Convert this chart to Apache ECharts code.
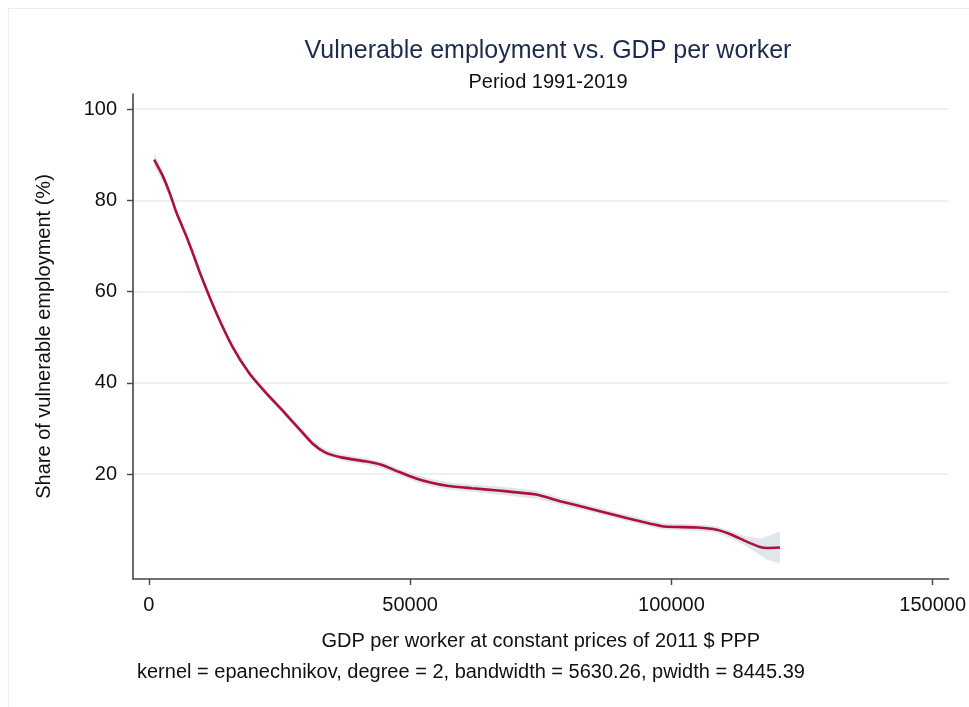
<!DOCTYPE html>
<html>
<head>
<meta charset="utf-8">
<script src="https://cdn.jsdelivr.net/npm/echarts@6/dist/echarts.min.js"></script>
<style>
html,body{margin:0;padding:0;background:#fff;}
#chart{width:969px;height:707px;}
</style>
</head>
<body>
<div id="chart"></div>
<script>
// GDP per worker (x) and fitted share of vulnerable employment (y)
const gdpPerWorker = [1000, 2700, 4000, 5300, 7200, 8400, 10000, 12900, 16000, 19200, 22400, 25600, 28750, 31300, 33800, 37000, 41400, 44600, 47800, 51000, 54100, 57300, 61800, 66800, 69400, 74100, 78900, 85200, 91600, 96000, 98600, 101100, 105000, 108700, 111300, 114400, 117000, 118200, 120800];
const vulnerableShare = [88.9, 85.2, 81.5, 77.2, 72.0, 68.4, 63.4, 55.3, 47.9, 42.1, 37.8, 33.9, 29.9, 26.7, 24.7, 23.6, 22.8, 22.0, 20.5, 19.1, 18.1, 17.4, 16.9, 16.4, 16.1, 15.5, 14.0, 12.2, 10.3, 9.1, 8.5, 8.4, 8.3, 7.8, 6.8, 5.2, 4.0, 3.8, 3.9];
const ciLow = [87.4, 84.2, 80.7, 76.5, 71.4, 67.8, 62.8, 54.7, 47.3, 41.5, 37.2, 33.3, 29.3, 26.0, 24.0, 22.9, 22.1, 21.3, 19.8, 18.3, 17.3, 16.6, 16.1, 15.5, 15.2, 14.6, 13.2, 11.5, 9.6, 8.4, 7.8, 7.7, 7.6, 7.1, 6.0, 4.1, 2.2, 1.3, 0.4];
const ciHigh = [90.4, 86.2, 82.3, 77.9, 72.6, 69.0, 64.0, 55.9, 48.5, 42.7, 38.4, 34.5, 30.5, 27.4, 25.4, 24.3, 23.5, 22.7, 21.2, 19.9, 18.9, 18.2, 17.7, 17.3, 17.0, 16.4, 14.8, 12.9, 11.0, 9.8, 9.2, 9.1, 9.0, 8.5, 7.6, 6.3, 5.8, 6.3, 7.4];
const xTicks = [0, 50000, 100000, 150000];
const yTicks = [20, 40, 60, 80, 100];

const titleText = 'Vulnerable employment vs. GDP per worker';
const subtitleText = 'Period 1991-2019';
const xName = 'GDP per worker at constant prices of 2011 $ PPP';
const yName = 'Share of vulnerable employment (%)';
const noteText = 'kernel = epanechnikov, degree = 2, bandwidth = 5630.26, pwidth = 8445.39';

const FONT = "'Liberation Sans', Arial, sans-serif";
const chart = echarts.init(document.getElementById('chart'), null, {renderer: 'canvas'});

const bandRows = gdpPerWorker.map((x, i) => [x, ciLow[i], ciHigh[i]]);
const lineData = gdpPerWorker.map((x, i) => [x, vulnerableShare[i]]);

function renderBand(params, api) {
  if (params.dataIndex !== 0) return null;
  const upper = bandRows.map(r => api.coord([r[0], r[2]]));
  const lower = bandRows.slice().reverse().map(r => api.coord([r[0], r[1]]));
  return {
    type: 'polygon',
    shape: {points: upper.concat(lower)},
    style: {fill: '#dfe7eb', stroke: 'none'},
    silent: true
  };
}

chart.setOption({
  backgroundColor: '#ffffff',
  animation: false,
  textStyle: {fontFamily: FONT},
  title: [
    {text: titleText, left: 543, top: 34, textAlign: 'center',
     textStyle: {fontFamily: FONT, fontSize: 25, fontWeight: 'normal', color: '#1c2b4d'}},
    {text: subtitleText, left: 543, top: 67, textAlign: 'center',
     textStyle: {fontFamily: FONT, fontSize: 20, fontWeight: 'normal', color: '#111'}}
  ],
  grid: {left: 133, right: 16, top: 94, bottom: 128, containLabel: false},
  xAxis: {
    type: 'value', min: -3050, max: 153050,
    name: xName, nameLocation: 'middle', nameGap: 52,
    nameTextStyle: {fontFamily: FONT, fontSize: 20, color: '#111'},
    axisLine: {show: true, onZero: false, lineStyle: {color: '#444', width: 1.6}},
    axisTick: {show: true, length: 6, customValues: xTicks, lineStyle: {color: '#444', width: 1.4}},
    axisLabel: {customValues: xTicks, fontFamily: FONT, fontSize: 20, color: '#111', margin: 16,
                formatter: v => String(v)},
    splitLine: {show: false}
  },
  yAxis: {
    type: 'value', min: -3, max: 103.3,
    name: yName, nameLocation: 'middle', nameGap: 79, nameRotate: 90,
    nameTextStyle: {fontFamily: FONT, fontSize: 20, color: '#111'},
    axisLine: {show: true, onZero: false, lineStyle: {color: '#444', width: 1.6}},
    axisTick: {show: true, length: 6, customValues: yTicks, lineStyle: {color: '#444', width: 1.4}},
    axisLabel: {customValues: yTicks, fontFamily: FONT, fontSize: 20, color: '#111', margin: 16,
                formatter: v => String(v)},
    splitLine: {show: true, lineStyle: {color: '#e4eef0', width: 1.5}}
  },
  series: [
    {type: 'custom', name: 'ci', data: bandRows, renderItem: renderBand,
     encode: {x: 0, y: [1, 2]}, silent: true, z: 1, clip: true},
    {type: 'line', name: 'fit', data: lineData, symbol: 'none', smooth: 0.2,
     lineStyle: {color: '#ae0f3e', width: 2.6}, z: 3}
  ],
  graphic: [
    {type: 'rect', shape: {x: 8.5, y: 8.5, width: 1000, height: 1000}, silent: true,
     style: {fill: 'none', stroke: '#e7eef0', lineWidth: 1}},
    {type: 'text', left: 137, top: 662, silent: true,
     style: {text: noteText, font: "20px 'Liberation Sans', Arial, sans-serif", fill: '#111'}}
  ]
});
</script>
</body>
</html>
